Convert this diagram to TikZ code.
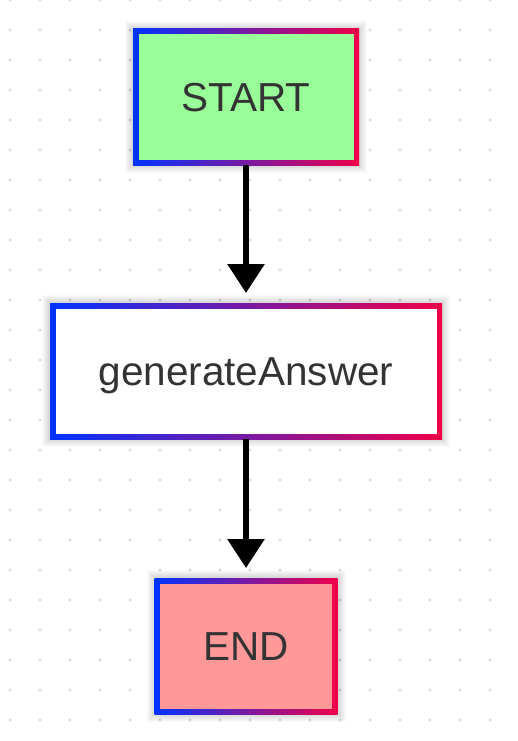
\documentclass[tikz,border=0pt]{standalone}
\usepackage{fontspec}
\setmainfont{Liberation Sans}
\usetikzlibrary{arrows.meta, positioning, backgrounds}
\definecolor{edgeblue}{RGB}{0,51,255}
\definecolor{edgered}{RGB}{240,0,72}
\definecolor{startgreen}{RGB}{153,255,153}
\definecolor{endred}{RGB}{255,153,153}
\definecolor{labelgray}{RGB}{51,51,51}
\definecolor{dotgray}{RGB}{218,218,218}
\tikzset{
    gradbox/.style={rectangle, inner sep=0pt, outer sep=0pt, minimum height=136pt,
        left color=edgeblue, right color=edgered, text=labelgray,
        font=\fontsize{40.5}{48}\selectfont, text height=28.6pt, text depth=0pt,
        path picture={\fill[#1] ([shift={(5.5pt,-5.5pt)}]path picture bounding box.north west)
            rectangle ([shift={(-5.5pt,5.5pt)}]path picture bounding box.south east);}},
    halo/.style={draw=black, draw opacity=0.018, line width=#1},
    flow/.style={line width=6pt, -{Triangle[length=29pt, width=36pt]}, shorten >=10pt},
}
\begin{document}
\begin{tikzpicture}[x=1pt, y=-1pt]
    \useasboundingbox (0,0) rectangle (518,741);

    \node[gradbox=startgreen, minimum width=226pt] (start) at (246,97) {START};
    \node[gradbox=white, minimum width=392pt, below=138pt of start] (answer) {generateAnswer};
    \node[gradbox=endred, minimum width=183pt, below=139pt of answer] (end) {END};

    \draw[flow] (start) -- (answer);
    \draw[flow] (answer) -- (end);

    \begin{scope}[on background layer]
      \fill[white] (0,0) rectangle (518,741);
      % dotted canvas
      \foreach \i in {0,...,16}
        \foreach \j in {0,...,24}
          \fill[dotgray] (10+30*\i, 30*\j) circle (1.6pt);
      % soft shadows
      \foreach \n in {start,answer,end}
        \foreach \w in {2,4,...,16}
          \draw[halo=\w pt, yshift=-3pt] (\n.north west) rectangle (\n.south east);
    \end{scope}
\end{tikzpicture}
\end{document}
